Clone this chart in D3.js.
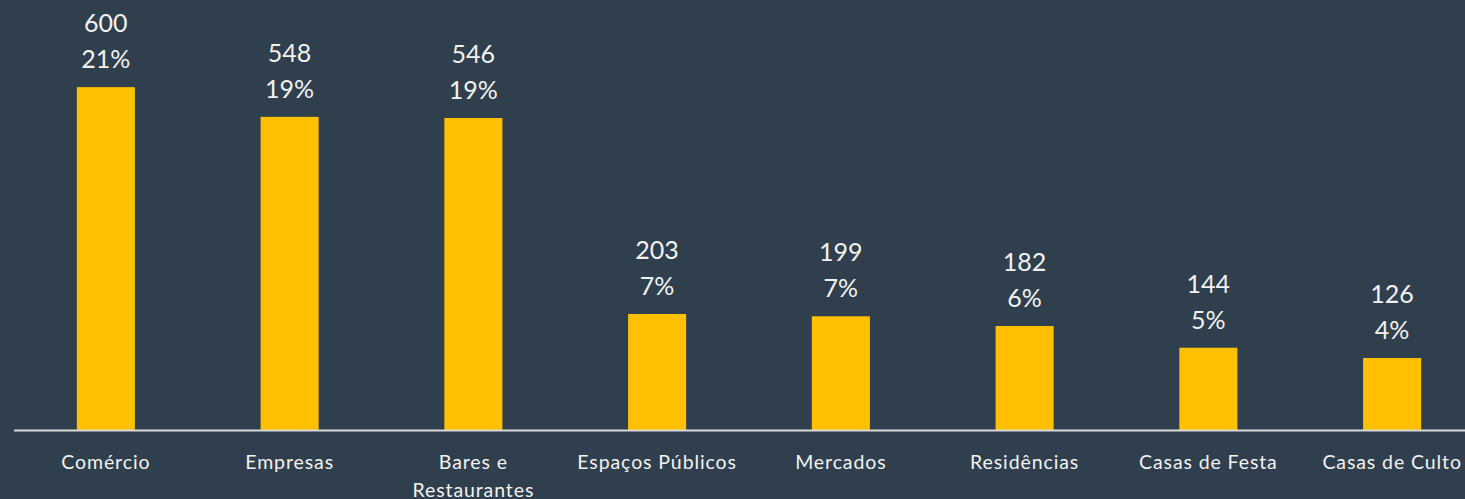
<!DOCTYPE html>
<html lang="pt">

<head>
    <meta charset="UTF-8">
    <title>Ocorrências por local</title>
    <script src="https://d3js.org/d3.v7.min.js"></script>
    <style>
        html, body { margin: 0; padding: 0; background: #2f3f4d; overflow: hidden; }
        text { font-family: Lato, "Noto Sans", sans-serif; fill: #f2f2f2; }
    </style>
</head>

<body>
    <svg width="1465" height="499"></svg>

    <script>
        // data
        const categories = ['Comércio', 'Empresas', 'Bares e Restaurantes', 'Espaços Públicos',
            'Mercados', 'Residências', 'Casas de Festa', 'Casas de Culto'];
        const values = [600, 548, 546, 203, 199, 182, 144, 126];
        const percents = ['21%', '19%', '19%', '7%', '7%', '6%', '5%', '4%'];

        const width = 1465, height = 499;
        const baseY = 430;

        const svg = d3.select('svg')
            .attr('width', width)
            .attr('height', height);

        const x = d3.scaleBand()
            .domain(categories)
            .range([14, 1484])
            .paddingInner(0.684)
            .paddingOuter(0.342);

        const y = d3.scaleLinear()
            .domain([0, 700])
            .range([baseY, 30]);

        // bars
        svg.append('g')
            .selectAll('rect')
            .data(values)
            .join('rect')
            .attr('x', (d, i) => x(categories[i]))
            .attr('y', d => y(d))
            .attr('width', x.bandwidth())
            .attr('height', d => y(0) - y(d))
            .attr('fill', '#ffc000');

        // baseline
        svg.append('line')
            .attr('x1', 14)
            .attr('x2', width)
            .attr('y1', y(0) + 0.5)
            .attr('y2', y(0) + 0.5)
            .attr('stroke', '#d9d9d9')
            .attr('stroke-width', 2);

        // value + percent labels
        const labels = svg.append('g')
            .selectAll('text')
            .data(values)
            .join('text')
            .attr('text-anchor', 'middle')
            .attr('font-size', 25)
            .attr('x', (d, i) => x(categories[i]) + x.bandwidth() / 2)
            .attr('y', d => y(d) - 55);
        labels.append('tspan').text(d => d);
        labels.append('tspan')
            .attr('x', (d, i) => x(categories[i]) + x.bandwidth() / 2)
            .attr('dy', 36)
            .text((d, i) => percents[i]);

        // category labels (wrap the long one)
        const cats = svg.append('g')
            .selectAll('text')
            .data(categories)
            .join('text')
            .attr('text-anchor', 'middle')
            .attr('font-size', 19.5)
            .attr('letter-spacing', 0.9)
            .attr('y', 469);
        cats.each(function (d) {
            const cx = x(d) + x.bandwidth() / 2;
            const lines = d === 'Bares e Restaurantes' ? ['Bares e', 'Restaurantes'] : [d];
            d3.select(this).selectAll('tspan')
                .data(lines)
                .join('tspan')
                .attr('x', cx)
                .attr('dy', (l, j) => j ? 28 : 0)
                .text(l => l);
        });
    </script>
</body>

</html>
